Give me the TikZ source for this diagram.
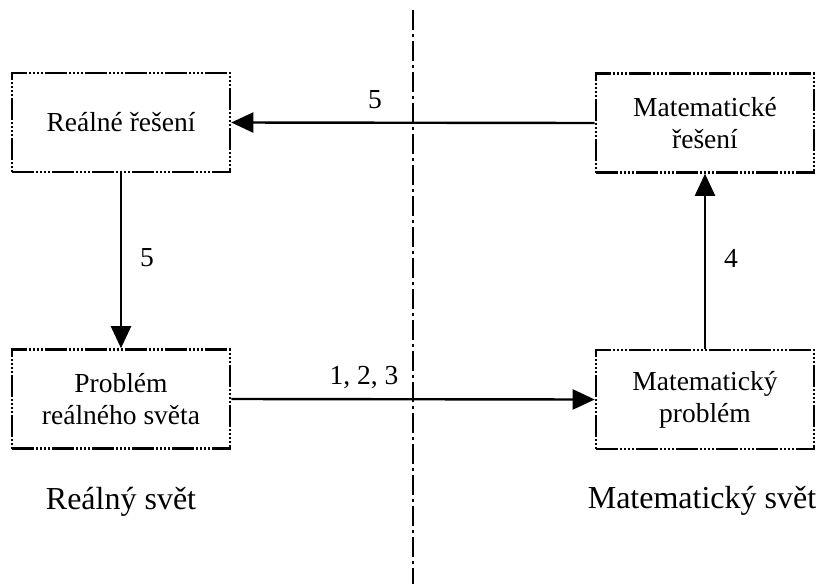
\documentclass[tikz,border=0pt]{standalone}
\usepackage{fontspec}
\setmainfont{Liberation Serif}
\usetikzlibrary{arrows.meta}
\begin{document}
\begin{tikzpicture}[x=1pt,y=-1pt,
  box/.style={draw, line width=2.6pt,
    dash pattern=on 22pt off 2pt on 2pt off 2pt on 2pt off 2pt on 2pt off 2pt on 2pt off 2pt,
    minimum width=218pt, minimum height=99pt, inner sep=0pt, align=center,
    font=\fontsize{27.5}{32}\selectfont},
  flow/.style={line width=2.4pt, -{Triangle[length=22pt,width=20pt]}},
  lbl/.style={font=\fontsize{27.5}{32}\selectfont},
  world/.style={font=\fontsize{32}{36}\selectfont},
  divider/.style={line width=2.6pt, dash pattern=on 20pt off 4pt on 3pt off 4pt}]
\useasboundingbox (0,0) rectangle (825,584);

% boxes
\node[box] (realsol) at (121,122.5) {Reálné řešení};
\node[box] (mathsol) at (705,123) {Matematické\\řešení};
\node[box] (realprob) at (121,399) {Problém\\reálného světa};
\node[box] (mathprob) at (705,399.5) {Matematický\\problém};

% dividing line between the two worlds
\coordinate (divtop) at (413,10);
\coordinate (divbot) at (413,584);
\draw[divider] (divtop) -- (divbot);

% connectors
\draw[flow] (mathsol.west) -- (realsol.east);
\draw[flow] (realsol.south) -- (realprob.north);
\draw[flow] (mathprob.north) -- (mathsol.south);
\draw[flow] (realprob.east) -- (mathprob.west);

% step labels
\node[lbl] (l5a) at (375,100) {5};
\node[lbl] (l5b) at (147,258) {5};
\node[lbl] (l4) at (731,258) {4};
\node[lbl] (l123) at (364,378) {1, 2, 3};

% world captions
\node[world, anchor=base] (realw) at (121,509) {Reálný svět};
\node[world, anchor=base] (mathw) at (702,508) {Matematický svět};
\end{tikzpicture}
\end{document}
